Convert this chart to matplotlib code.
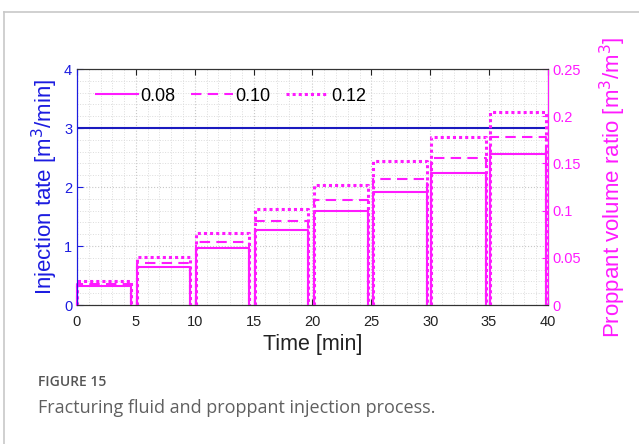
import numpy as np
import matplotlib
matplotlib.use("Agg")
import matplotlib.pyplot as plt
from matplotlib.lines import Line2D

plt.rcParams['font.family'] = ['Liberation Sans', 'DejaVu Sans']

# stage timing [min]: each stage is pumped from start to end, then a short pad
stage_start = [0.0, 5.1, 10.1, 15.1, 20.1, 25.1, 30.1, 35.1]
stage_end = [4.6, 9.6, 14.6, 19.6, 24.7, 29.7, 34.7, 39.8]

# proppant volume ratio per stage for each sand ratio case
labels = ['0.08', '0.10', '0.12']
ratio_008 = [0.020, 0.040, 0.060, 0.080, 0.100, 0.120, 0.140, 0.160]
ratio_010 = [0.0223, 0.0446, 0.0669, 0.0892, 0.1115, 0.1338, 0.1561, 0.1784]
ratio_012 = [0.0255, 0.0510, 0.0765, 0.1020, 0.1275, 0.1530, 0.1785, 0.2040]

injection_rate = 3.0  # m3/min

blue = '#1c1ce0'
mag = '#ff1aff'

fig = plt.figure(figsize=(6.39, 4.44), dpi=100)

# light frame around the panel
fig.add_artist(Line2D([4/639, 1], [1-12.5/444, 1-12.5/444], color='#c8c8c8', lw=1.2))
fig.add_artist(Line2D([4/639, 4/639], [0, 1-12.5/444], color='#c8c8c8', lw=1.2))

ax = fig.add_axes([0.1205, 0.313, 0.737, 0.5315])
ax2 = ax.twinx()

ax.axhline(injection_rate, color='#1a1abf', lw=1.5, zorder=3)

ax.set_xlim(0, 40)
ax.set_ylim(0, 4)
ax.set_xticks(np.arange(0, 41, 5))
ax.set_yticks(np.arange(0, 5, 1))
ax.set_xticks(np.arange(0, 41, 1), minor=True)
ax.set_yticks(np.arange(0, 4.01, 0.2), minor=True)
ax.grid(which='major', ls=':', color='#c8c8c8', lw=0.8)
ax.grid(which='minor', ls=':', color='#dcdcdc', lw=0.7)
ax.set_axisbelow(True)

ax.tick_params(axis='x', which='major', direction='in', top=True, length=4,
               labelsize=10.5, colors='#222222', pad=7)
ax.tick_params(axis='y', which='major', direction='in', length=4,
               labelsize=10.5, colors=blue)
ax.tick_params(which='minor', length=0)
ax.spines['left'].set_color(blue)
ax.spines['bottom'].set_color('#333333')
ax.spines['top'].set_color('#333333')
ax.set_xlabel('Time [min]', fontsize=15.5, color='#222222', labelpad=4)
ax.set_ylabel('Injection tate [m$^3$/min]', fontsize=16, color=blue, labelpad=3)

styles = [dict(ls='-', lw=1.5),
          dict(ls=(0, (5, 3)), lw=1.5),
          dict(ls=(0, (1, 1)), lw=2.2)]
for vals, lab, st in zip([ratio_008, ratio_010, ratio_012], labels, styles):
    for i, (t0, t1, v) in enumerate(zip(stage_start, stage_end, vals)):
        ax2.plot([t0, t0, t1, t1], [0, v, v, 0], color=mag,
                 label=lab if i == 0 else None, clip_on=False, **st)

ax2.set_ylim(0, 0.25)
ax2.set_yticks([0, 0.05, 0.1, 0.15, 0.2, 0.25])
ax2.set_yticklabels(['0', '0.05', '0.1', '0.15', '0.2', '0.25'])
ax2.tick_params(axis='y', direction='in', length=4, labelsize=10.5, colors=mag)
ax2.spines['right'].set_color(mag)
ax2.spines['left'].set_color(blue)
ax2.spines['bottom'].set_color('#333333')
ax2.spines['top'].set_color('#333333')
ax2.set_ylabel('Proppant volume ratio [m$^3$/m$^3$]', fontsize=16, color=mag, labelpad=12)

leg = ax2.legend(loc='upper left', ncol=3, frameon=False, fontsize=13,
                 handlelength=2.3, handletextpad=0.17, columnspacing=0.85,
                 bbox_to_anchor=(0.006, 0.99))

fig.text(38/639, 1-382/444, 'FIGURE 15', fontsize=10, color='#555555',
         family=['Open Sans', 'DejaVu Sans'], weight='semibold', va='center')
fig.text(38/639, 1-408/444, 'Fracturing fluid and proppant injection process.',
         fontsize=13, color='#606060', family=['Open Sans', 'DejaVu Sans'], va='center')

fig.savefig('out.png', dpi=100)
